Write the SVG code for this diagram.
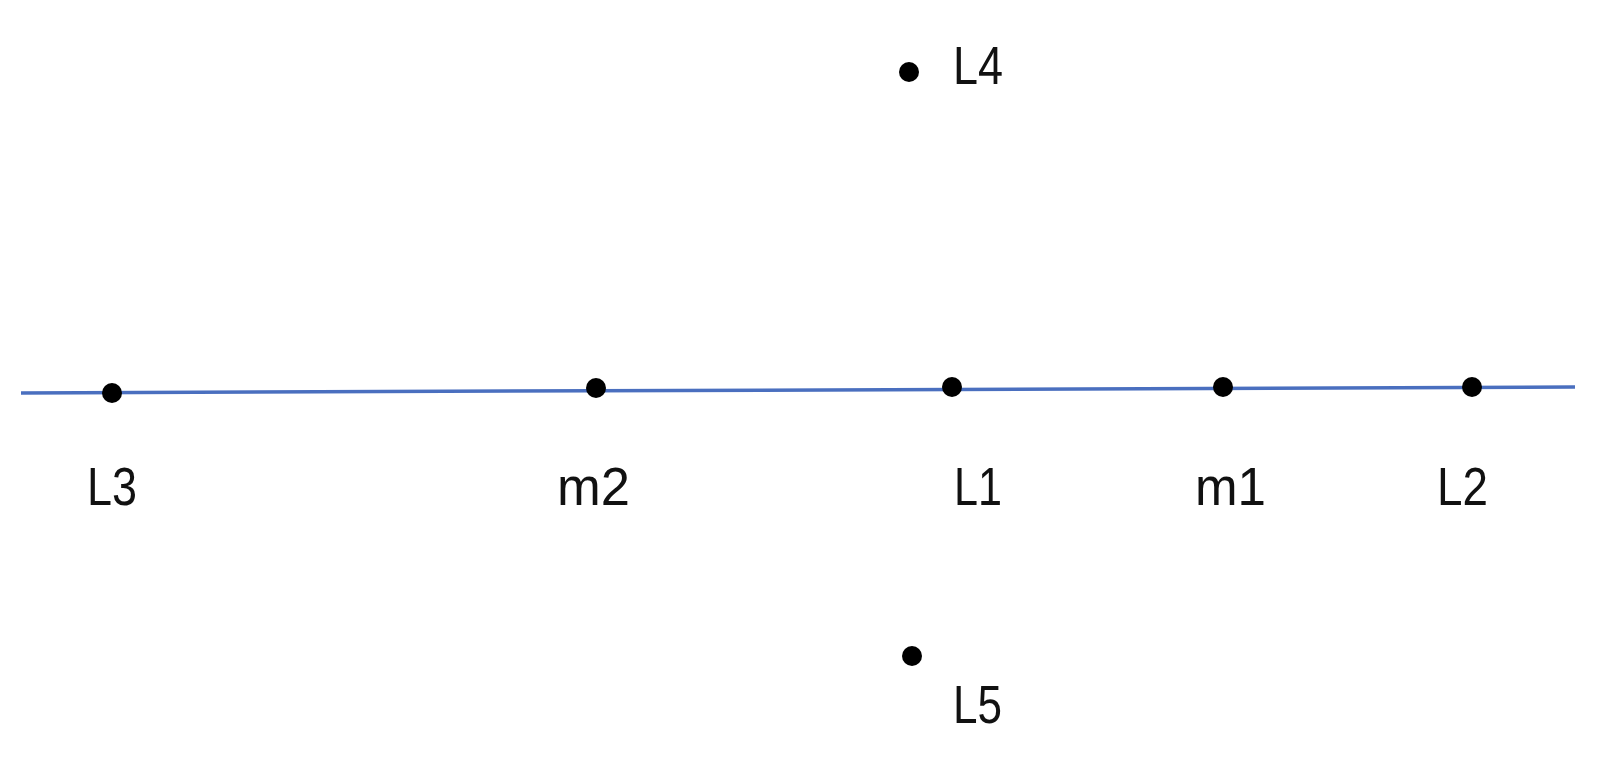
<svg xmlns="http://www.w3.org/2000/svg" width="1608" height="761" viewBox="0 0 1608 761">
<style>
.dot{fill:#000}
.lbl{font-family:"Liberation Sans",Arial,sans-serif;font-size:54px;fill:#111}
.axis{stroke:#4a6fbf;stroke-width:3.5;fill:none}
</style>
<rect width="1608" height="761" fill="#fff"/>
<g id="connectors">
<line class="axis" x1="21" y1="393" x2="1575" y2="387"/>
</g>
<g id="L3"><circle class="dot" cx="112" cy="393" r="10"/><text class="lbl" x="87" y="505" textLength="50" lengthAdjust="spacingAndGlyphs">L3</text></g>
<g id="m2"><circle class="dot" cx="596" cy="388" r="10"/><text class="lbl" x="557" y="505" textLength="73" lengthAdjust="spacingAndGlyphs">m2</text></g>
<g id="L1"><circle class="dot" cx="952" cy="387" r="10"/><text class="lbl" x="954" y="505" textLength="48" lengthAdjust="spacingAndGlyphs">L1</text></g>
<g id="m1"><circle class="dot" cx="1223" cy="387" r="10"/><text class="lbl" x="1195" y="505" textLength="71" lengthAdjust="spacingAndGlyphs">m1</text></g>
<g id="L2"><circle class="dot" cx="1472" cy="387" r="10"/><text class="lbl" x="1437" y="505" textLength="51" lengthAdjust="spacingAndGlyphs">L2</text></g>
<g id="L4"><circle class="dot" cx="909" cy="72" r="10"/><text class="lbl" x="953" y="84" textLength="50" lengthAdjust="spacingAndGlyphs">L4</text></g>
<g id="L5"><circle class="dot" cx="912" cy="656" r="10"/><text class="lbl" x="953" y="723" textLength="49" lengthAdjust="spacingAndGlyphs">L5</text></g>
</svg>
